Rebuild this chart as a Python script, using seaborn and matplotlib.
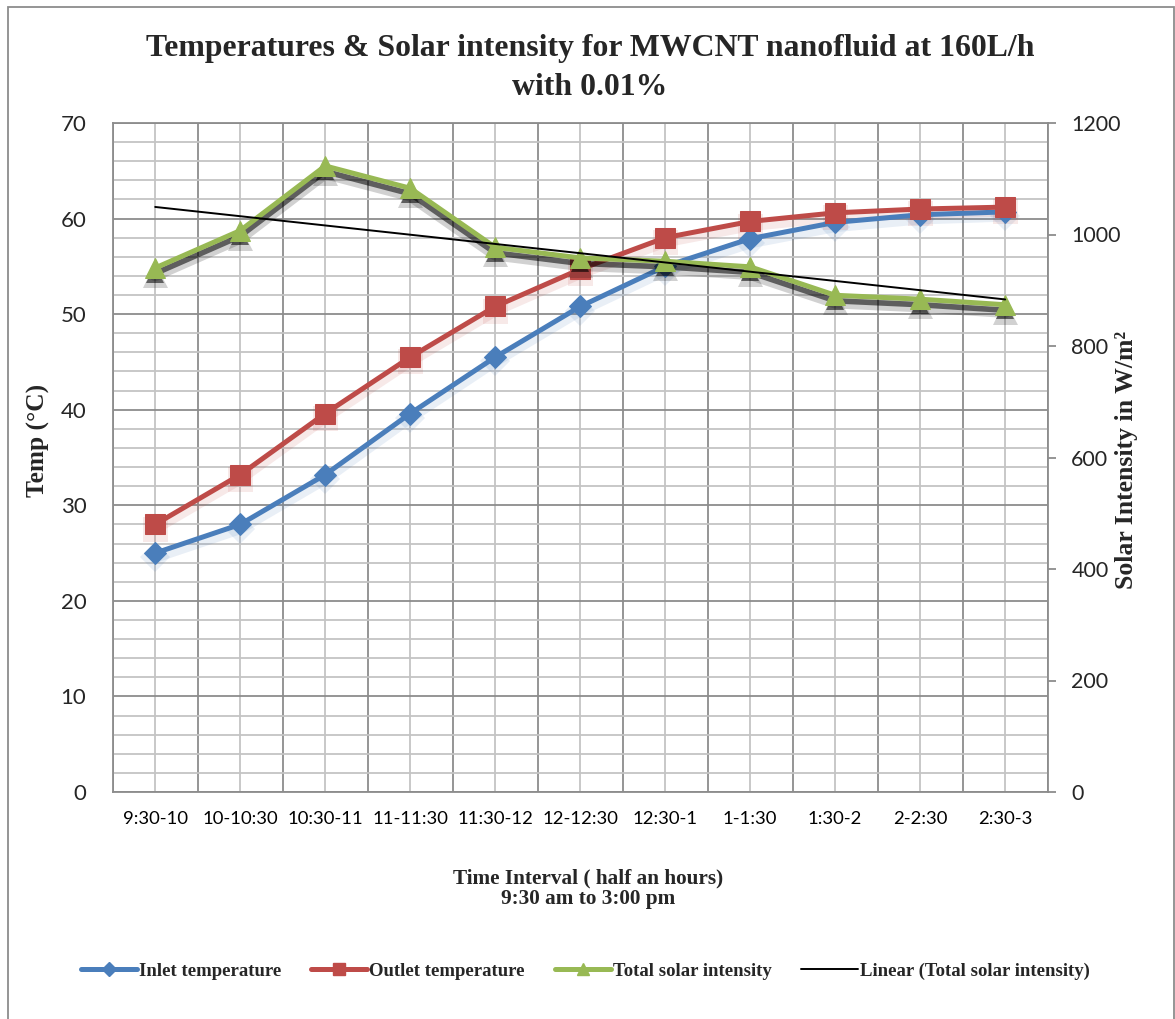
import numpy as np
import pandas as pd
import matplotlib
matplotlib.use("Agg")
import matplotlib.pyplot as plt
from matplotlib.patches import Rectangle
from matplotlib.lines import Line2D
from matplotlib.ticker import MultipleLocator
from matplotlib.transforms import offset_copy
import seaborn as sns

# ---------------- data ----------------
categories = ["9:30-10", "10-10:30", "10:30-11", "11-11:30", "11:30-12", "12-12:30",
              "12:30-1", "1-1:30", "1:30-2", "2-2:30", "2:30-3"]
inlet_temp = [25.0, 28.0, 33.2, 39.6, 45.5, 50.8, 55.0, 57.9, 59.6, 60.4, 60.7]
outlet_temp = [28.0, 33.2, 39.6, 45.5, 50.8, 54.7, 58.0, 59.7, 60.6, 61.0, 61.2]
solar_intensity = [940, 1007, 1123, 1083, 977, 958, 952, 942, 891, 884, 874]

title_text = "Temperatures & Solar intensity for MWCNT nanofluid at 160L/h\nwith 0.01%"
left_label = "Temp (°C)"
right_label = "Solar Intensity in W/m²"
x_label = "Time Interval ( half an hours)\n9:30 am to 3:00 pm"
series_names = ["Inlet temperature", "Outlet temperature", "Total solar intensity",
                "Linear (Total solar intensity)"]

# ---------------- style ----------------
sns.set_style("white")
plt.rcParams["font.family"] = ["Lato", "DejaVu Sans"]
SERIF = ["Liberation Serif", "DejaVu Serif"]

BLUE = "#4a7ebb"
RED = "#be4b48"
GREEN = "#98b954"
GRID_DARK = "#8c8c8c"
GRID_LIGHT = "#c4c4c4"

idx = np.arange(len(categories))
df = pd.DataFrame({"idx": idx, "inlet": inlet_temp, "outlet": outlet_temp,
                   "solar": solar_intensity})

fig = plt.figure(figsize=(11.75, 10.19), dpi=100)
ax = fig.add_axes([112.7 / 1175, 1 - 792 / 1019, 935 / 1175, 669 / 1019])
ax2 = ax.twinx()

# grid
ax.set_xlim(-0.5, len(categories) - 0.5)
ax.set_ylim(0, 70)
ax2.set_ylim(0, 1200)
ax.xaxis.set_major_locator(MultipleLocator(1))
ax.xaxis.set_minor_locator(MultipleLocator(1, offset=0.5))
ax.yaxis.set_major_locator(MultipleLocator(10))
ax.yaxis.set_minor_locator(MultipleLocator(2))
ax.grid(which="minor", axis="y", color=GRID_LIGHT, lw=1.3)
ax.grid(which="major", axis="x", color=GRID_LIGHT, lw=1.3)
ax.grid(which="minor", axis="x", color=GRID_DARK, lw=1.3)
ax.grid(which="major", axis="y", color=GRID_DARK, lw=1.3)
ax.set_axisbelow(True)
for sp in ax.spines.values():
    sp.set_color(GRID_DARK)
    sp.set_linewidth(1.3)
for sp in ax2.spines.values():
    sp.set_visible(False)

# soft shadows (same data, offset downwards)
def shadow(axis, col, color, alpha, lw, marker, ms, dy):
    tr = offset_copy(axis.transData, fig=fig, x=0, y=dy, units="points")
    sns.lineplot(data=df, x="idx", y=col, ax=axis, color=color, alpha=alpha, lw=lw,
                 marker=marker, markersize=ms, markeredgewidth=0, transform=tr,
                 legend=False)

shadow(ax, "inlet", BLUE, 0.12, 8, "D", 15, -3)
shadow(ax, "outlet", RED, 0.12, 8, "s", 18, -3)
shadow(ax2, "solar", "black", 0.18, 9, "^", 18, -5)
shadow(ax2, "solar", "black", 0.55, 4, "^", 13, -4)

# series
sns.lineplot(data=df, x="idx", y="inlet", ax=ax, color=BLUE, lw=3.6, marker="D",
             markersize=11, markeredgecolor=BLUE, legend=False)
sns.lineplot(data=df, x="idx", y="outlet", ax=ax, color=RED, lw=3.6, marker="s",
             markersize=14, markeredgecolor=RED, legend=False)
sns.lineplot(data=df, x="idx", y="solar", ax=ax2, color=GREEN, lw=3.6, marker="^",
             markersize=15, markeredgecolor=GREEN, legend=False)
coef = np.polyfit(idx, np.array(solar_intensity, dtype=float), 1)
trend = np.polyval(coef, idx)
sns.lineplot(x=idx, y=trend, ax=ax2, color="black", lw=1.4, legend=False)

# ticks
ax.set_xticks(idx)
ax.set_xticklabels(categories)
ax.tick_params(axis="x", which="both", length=0, pad=14, labelsize=13.3, colors="black")
ax.tick_params(axis="y", which="both", length=0, pad=19, labelsize=16)
ax2.set_yticks(np.arange(0, 1201, 200))
ax2.tick_params(axis="y", length=6, width=1.3, color=GRID_DARK, direction="out", pad=11,
                labelsize=15.5)
ax.set_xlabel("")
ax.set_ylabel("")
ax2.set_ylabel("")

# labels / title
fig.text(0.502, 1 - 68 / 1019, title_text, ha="center", va="center", family=SERIF,
         weight="bold", fontsize=22.9, linespacing=1.45)
fig.text(38 / 1175, 1 - 440 / 1019, left_label, rotation=90, ha="center", va="center",
         family=SERIF, weight="bold", fontsize=18.3)
fig.text(1127 / 1175, 1 - 460 / 1019, right_label, rotation=90, ha="center", va="center",
         family=SERIF, weight="bold", fontsize=18.5)
fig.text(588 / 1175, 1 - 889 / 1019, x_label, ha="center", va="center", family=SERIF,
         weight="bold", fontsize=15.3, linespacing=1.05)

# legend (proxy handles mirroring the plotted series styles)
handles = [
    Line2D([], [], color=BLUE, lw=3.6, marker="D", markersize=7, markeredgecolor=BLUE),
    Line2D([], [], color=RED, lw=3.6, marker="s", markersize=9, markeredgecolor=RED),
    Line2D([], [], color=GREEN, lw=3.6, marker="^", markersize=9, markeredgecolor=GREEN),
    Line2D([], [], color="black", lw=1.4),
]
fig.legend(handles, series_names, loc="center", bbox_to_anchor=(585 / 1175, 1 - 971 / 1019),
           ncol=4, frameon=False, handlelength=3.0, handletextpad=0.1,
           columnspacing=1.6,
           prop={"family": SERIF, "weight": "bold", "size": 13.5})

# outer frame
fig.patches.append(Rectangle((8 / 1175, -0.01), 1166 / 1175, 1 - 7 / 1019 + 0.01,
                             transform=fig.transFigure, fill=False, ec=GRID_DARK, lw=1.3))

fig.savefig("out.png", dpi=100)
